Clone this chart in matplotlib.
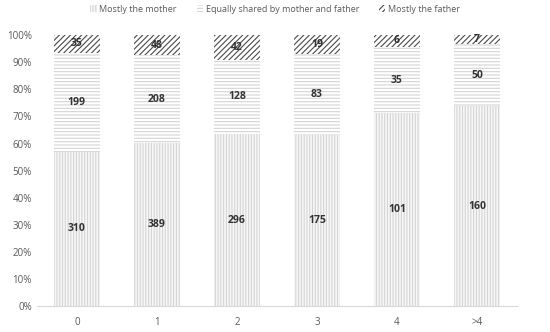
import matplotlib
matplotlib.use("Agg")
import matplotlib.pyplot as plt
import numpy as np

categories = ["0", "1", "2", "3", "4", ">4"]
mother = [310, 389, 296, 175, 101, 160]
equal = [199, 208, 128, 83, 35, 50]
father = [35, 48, 42, 19, 6, 7]
series_names = ["Mostly the mother", "Equally shared by mother and father", "Mostly the father"]

plt.rcParams['font.family'] = ['Open Sans', 'DejaVu Sans']
plt.rcParams['hatch.linewidth'] = 0.8

fig = plt.figure(figsize=(5.5, 3.32), dpi=100)
ax = fig.add_axes([0.067, 0.078, 0.873, 0.816])

m = np.array(mother, float); e = np.array(equal, float); f = np.array(father, float)
tot = m + e + f
pm, pe, pf = m / tot, e / tot, f / tot
x = np.arange(len(categories))
w = 0.575

ax.bar(x, pm, w, color='#f7f7f7', edgecolor='#d4d4d4', hatch='||||||', linewidth=0, label=series_names[0])
ax.bar(x, pe, w, bottom=pm, color='white', edgecolor='#d4d4d4', hatch='-----', linewidth=0, label=series_names[1])
ax.bar(x, pf, w, bottom=pm + pe, color='white', edgecolor='#4a4a4a', hatch='//////', linewidth=0, label=series_names[2])

for i in range(len(x)):
    ax.text(x[i], pm[i] / 2, str(mother[i]), ha='center', va='center', fontsize=7.5, fontweight='bold', color='#333333')
    ax.text(x[i], pm[i] + pe[i] / 2, str(equal[i]), ha='center', va='center', fontsize=7.5, fontweight='bold', color='#333333')
    ax.text(x[i], pm[i] + pe[i] + pf[i] / 2, str(father[i]), ha='center', va='center', fontsize=7.5, fontweight='bold', color='#333333')

ax.set_xlim(-0.5, 5.5)
ax.set_ylim(0, 1)
ax.set_yticks(np.arange(0, 1.01, 0.1))
ax.set_yticklabels([f"{int(round(v*100))}%" for v in np.arange(0, 1.01, 0.1)])
ax.set_xticks(x)
ax.set_xticklabels(categories)
for s in ['top', 'right', 'left']:
    ax.spines[s].set_visible(False)
ax.spines['bottom'].set_color('#d9d9d9')
ax.tick_params(axis='both', length=0, labelsize=7, colors='#595959')
ax.tick_params(axis='x', pad=8)

leg = fig.legend(loc='upper center', bbox_to_anchor=(0.5, 1.01), ncol=3, frameon=False, fontsize=6.5,
                 handlelength=0.7, handleheight=0.7, columnspacing=2.2, handletextpad=0.3)
for t in leg.get_texts():
    t.set_color('#595959')

fig.savefig("out.png", dpi=100)
